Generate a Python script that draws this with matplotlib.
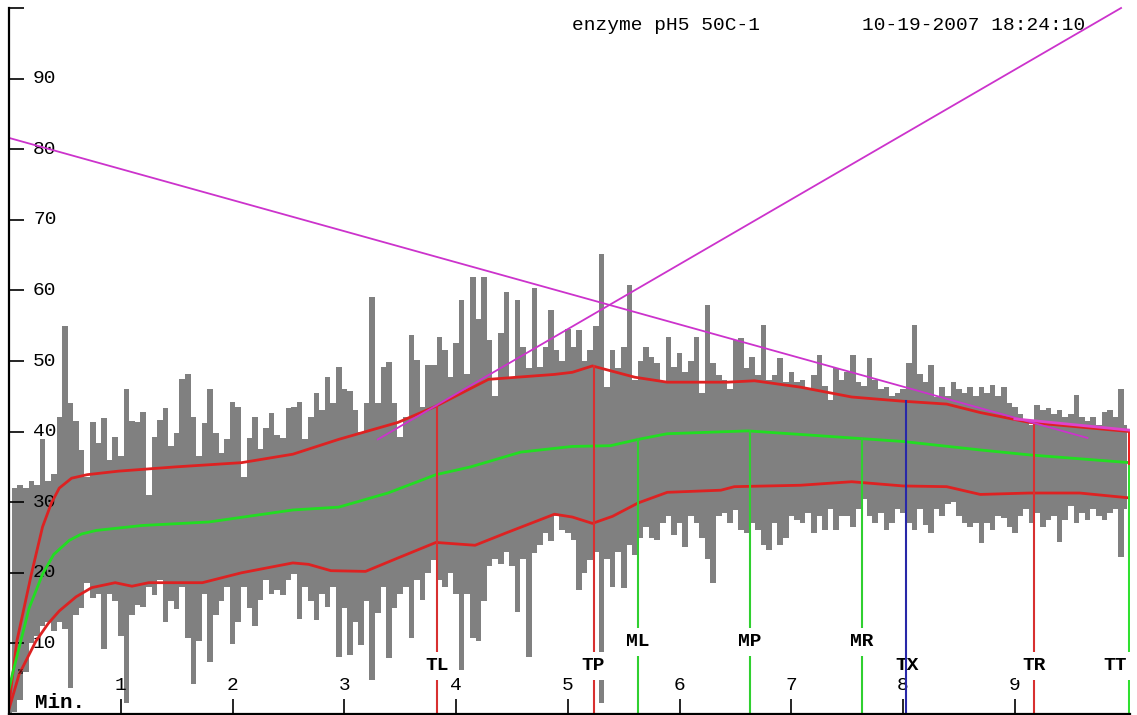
import numpy as np
import matplotlib
matplotlib.use('Agg')
import matplotlib.pyplot as plt

plt.rcParams['font.family'] = ['Liberation Mono', 'DejaVu Sans Mono']

########################## DATA #############################

# raw signal envelope (max / min of the trace) every 0.05 min
gray_hi = [4, 32, 32.5, 32, 33, 32.5, 39, 33, 34, 42,
           54.9, 44, 41.5, 37.4, 33.5, 41.4, 38.4, 41.9, 36, 39.3,
           36.5, 46.1, 41.5, 41.3, 42.8, 31, 39.3, 41.6, 43.3, 38,
           39.8, 47.5, 48.2, 42.1, 36.5, 41.2, 46.1, 39.8, 37, 39,
           44.2, 43.5, 33.5, 39.1, 42.1, 37.5, 40.5, 42.6, 39.5, 39.1,
           43.3,
           43.5, 44.2, 38.9, 42, 45.4, 43, 47.8, 44, 49.2, 46.1,
           45.7, 43, 40, 44, 59.1, 44, 49.2, 49.9, 44, 39.3,
           42.1, 53.7, 50.1, 43.5, 49.4, 49.4, 53.4, 51.6, 47.8, 52.5,
           58.6, 48.2, 61.9, 56, 61.9, 53, 45, 53.9, 59.8, 47.8,
           58.6, 52, 49, 60.3, 49.2, 52, 57.2, 51.6, 50, 54.5,
           52, 54.4, 50, 51.6, 55, 65.2, 46.3, 51.6, 49, 52,
           60.8, 47.3, 50, 52, 50.6, 49.7, 47, 53.4, 49.2, 51.1,
           48.5, 50, 53.4, 45.4, 57.9, 49.7, 48, 47.3, 46, 53,
           53.2, 49, 50.6, 48, 55.1, 47.3, 48, 50.4, 47, 48.5,
           47, 47.3, 46, 48, 50.8, 46.5, 44.5, 49, 47.3, 48.5,
           50.8, 47, 46.5, 50.4, 47.3, 46, 46.3, 45, 45.4, 46,
           49.7, 55.1, 48.2, 47, 49.4, 44.9, 46.3, 45, 47, 46,
           45.4, 46.3, 45, 46.3, 45.5, 46.6, 45, 46.3, 44, 43.5,
           42.5, 41.5, 40.9, 43.8, 43, 43.3, 42.5, 43, 42, 42.5,
           45.2, 42, 41.5, 42.1, 41, 42.8, 43, 42, 46.1, 41]

gray_lo = [0, 0.3, 2, 6, 10, 11, 12.5, 13, 11.7, 13,
           12, 3.7, 14, 15, 18.5, 16.5, 17, 9.2, 17, 16,
           11, 1.5, 14, 15.5, 15.2, 18, 16.8, 19, 13, 16,
           14.9, 18, 10.8, 4.3, 10.4, 17, 7.3, 14, 16, 18,
           9.9, 13, 18, 15, 12.4, 16.1, 19, 17, 17.5, 16.8,
           19,
           19.9, 13.5, 18, 16, 13.3, 17, 15.2, 18, 8.1, 15,
           8.3, 13, 9.8, 16, 4.8, 14.3, 18, 7.9, 15, 17,
           18, 10.7, 19, 16.1, 20, 21.8, 19, 18, 20, 17,
           6.2, 17, 10.7, 10.4, 16, 20.9, 22, 21.3, 23, 21,
           14.5, 22, 8.1, 22.8, 24, 25.6, 24.5, 28, 26, 25.6,
           24.7, 17.6, 20, 21.8, 23, 1.5, 22, 18, 23, 17.8,
           24, 22.5, 25, 26.5, 25, 24.7, 27, 28, 25.4, 27,
           23.7, 28, 27, 25, 22, 18.5, 28, 28.5, 27, 28.9,
           26, 25.6, 27, 26, 24, 23.2, 27, 23.9, 25, 28,
           27.5, 27, 28.5, 25.6, 28, 26, 29, 26, 28, 28,
           26.5, 29, 30.5, 28, 27, 28.5, 26, 27, 29, 28.4,
           27, 26, 29, 26.7, 25.6, 29, 28, 29.8, 30, 28,
           27, 26.5, 27, 24.2, 27, 26, 28, 27.7, 26.5, 25.6,
           28, 29, 27, 28.4, 26.5, 27.5, 28, 24.4, 27.5, 29.4,
           27, 28.5, 27.5, 29, 28, 27.5, 28.5, 29, 22.3, 29]

gray_t = np.round(np.arange(len(gray_hi)) * 0.05, 2)

# upper envelope (red)
upper_t = [0, 0.07, 0.2, 0.3, 0.38, 0.45, 0.56, 0.7, 0.98, 1.49, 2.08, 2.54, 2.95, 3.48,
           3.82, 4.29, 4.88, 5.04, 5.22, 5.6, 5.89, 6.43, 6.67, 7.08, 7.54, 8.0, 8.39, 8.69,
           9.13, 10.03]
upper_v = [1.3, 10.3, 19.8, 26.5, 29.9, 32.0, 33.4, 33.9, 34.4, 35.0, 35.6, 36.8, 38.9, 41.3,
           43.6, 47.4, 48.1, 48.4, 49.3, 47.7, 47.0, 47.0, 47.2, 46.3, 44.9, 44.3, 43.9, 42.7,
           41.3, 40.0]

# mean (green)
mid_t = [0, 0.03, 0.18, 0.3, 0.4, 0.54, 0.65, 0.78, 1.19, 1.79, 2.54, 2.95, 3.39, 3.82,
         4.13, 4.58, 5.04, 5.38, 5.63, 5.89, 6.61, 7.08, 7.54, 8.0, 8.69, 9.13, 10.03]
mid_v = [3.5, 5.6, 15, 19.8, 22.6, 24.6, 25.5, 26, 26.7, 27.2, 28.9, 29.3, 31.3, 33.9,
         35.0, 37.1, 37.9, 38.0, 38.9, 39.7, 40.1, 39.6, 39.1, 38.6, 37.4, 36.7, 35.6]

# lower envelope (red)
lower_t = [0, 0.09, 0.24, 0.35, 0.45, 0.6, 0.74, 0.95, 1.1, 1.25, 1.73, 2.08, 2.54, 2.68,
           2.88, 3.19, 3.48, 3.82, 4.17, 4.44, 4.88, 5.04, 5.22, 5.4, 5.63, 5.89, 6.37, 6.49,
           7.08, 7.54, 8.0, 8.39, 8.69, 9.13, 9.58, 10.03]
lower_v = [0.7, 5.6, 10.3, 12.8, 14.6, 16.6, 17.9, 18.6, 18.1, 18.6, 18.6, 20.0, 21.4, 21.2,
           20.3, 20.2, 22.1, 24.3, 23.9, 25.6, 28.3, 27.9, 27.0, 28.0, 29.9, 31.4, 31.7, 32.2,
           32.4, 32.9, 32.3, 32.2, 31.1, 31.3, 31.3, 30.6]

# tangent lines (magenta)
desc_t = [0, 9.65]
desc_v = [81.6, 39.1]
asc_t = [3.3, 9.95]
asc_v = [38.9, 100]
tail_t = [9.0, 10.03]
tail_v = [41.8, 40.2]

# event markers
mark_names = ['TL', 'TP', 'ML', 'MP', 'MR', 'TX', 'TR', 'TT']
mark_t = [3.83, 5.23, 5.63, 6.63, 7.63, 8.03, 9.17, 10.02]
mark_curve = ['upper', 'upper', 'mid', 'mid', 'mid', 'upper', 'upper', 'upper']
mark_color = ['#d83030', '#d83030', '#30d030', '#30d030', '#30d030', '#2828a8', '#d83030', '#d83030']
mark_label_v = [6.8, 6.8, 10.2, 10.2, 10.2, 6.8, 6.8, 6.8]

x_ticks = [1, 2, 3, 4, 5, 6, 7, 8, 9]
y_ticks = [10, 20, 30, 40, 50, 60, 70, 80, 90, 100]
y_labels = ['10', '20', '30', '40', '50', '60', '70', '80', '90', '']

title_left = 'enzyme pH5 50C-1'
title_right = '10-19-2007 18:24:10'

######################## PLOT #############################

fig = plt.figure(figsize=(11.37, 7.15), dpi=100)
ax = fig.add_axes([9 / 1137, 1 / 715, 1121 / 1137, 706 / 715])
ax.set_xlim(0, 10.03)
ax.set_ylim(0, 100)

# raw trace
ax.fill_between(gray_t, gray_lo, gray_hi, step='mid', color='#808080', lw=0, zorder=1)

# envelope and mean curves
ax.plot(upper_t, upper_v, color='#dd2222', lw=2.0, zorder=3)
ax.plot(lower_t, lower_v, color='#dd2222', lw=2.0, zorder=3)
ax.plot(mid_t, mid_v, color='#22dd22', lw=2.0, zorder=3)

# vertical event lines
for name, t, crv, col, lv in zip(mark_names, mark_t, mark_curve, mark_color, mark_label_v):
    top = np.interp(t, upper_t, upper_v) if crv == 'upper' else np.interp(t, mid_t, mid_v)
    if name == 'TT':
        gm = np.interp(t, mid_t, mid_v)
        ax.plot([t, t], [0, gm], color='#30e030', lw=2.2, zorder=4)
        ax.plot([t, t], [gm, top], color='#ee2020', lw=2.2, zorder=4)
    else:
        ax.plot([t, t], [0, top], color=col, lw=1.5, zorder=4)
    if name == 'TX':
        ax.text(t + 0.01, lv, name, ha='center', va='center', fontsize=14,
                fontweight='bold', zorder=3.5)
    elif name == 'TT':
        ax.text(t - 0.12, lv, name, ha='center', va='center', fontsize=14, fontweight='bold',
                zorder=5, bbox=dict(facecolor='white', edgecolor='none', pad=4))
    else:
        ax.text(t, lv, name, ha='center', va='center', fontsize=14, fontweight='bold',
                zorder=5, bbox=dict(facecolor='white', edgecolor='none', pad=4))

# magenta tangent lines
ax.plot(desc_t, desc_v, color='#cc33cc', lw=1.3, zorder=6)
ax.plot(asc_t, asc_v, color='#cc33cc', lw=1.3, zorder=6, clip_on=False)
ax.plot(tail_t, tail_v, color='#dd44cc', lw=2.0, zorder=6)

# axes frame
for s in ['top', 'right']:
    ax.spines[s].set_visible(False)
for s in ['left', 'bottom']:
    ax.spines[s].set_linewidth(1.6)
    ax.spines[s].set_zorder(7)

ax.set_xticks(x_ticks)
ax.set_yticks(y_ticks)
ax.tick_params(direction='in', length=11, width=1.2, labelbottom=False, labelleft=False)

# tick labels drawn inside the frame
for t in x_ticks:
    ax.text(t, 4.0, str(t), ha='center', va='center', fontsize=14, zorder=2.5)
for v, lab in zip(y_ticks, y_labels):
    ax.text(0.215, v, lab, ha='left', va='center', fontsize=14, zorder=2.5)

ax.text(0.23, 1.6, 'Min.', ha='left', va='center', fontsize=15, fontweight='bold', zorder=5)
ax.text(0.1, 5.9, '%', ha='center', va='center', fontsize=6, zorder=5)

fig.text(572 / 1137, 1 - 25 / 715, title_left, ha='left', va='center', fontsize=14)
fig.text(862 / 1137, 1 - 25 / 715, title_right, ha='left', va='center', fontsize=14)

fig.savefig('out.png', dpi=100)
